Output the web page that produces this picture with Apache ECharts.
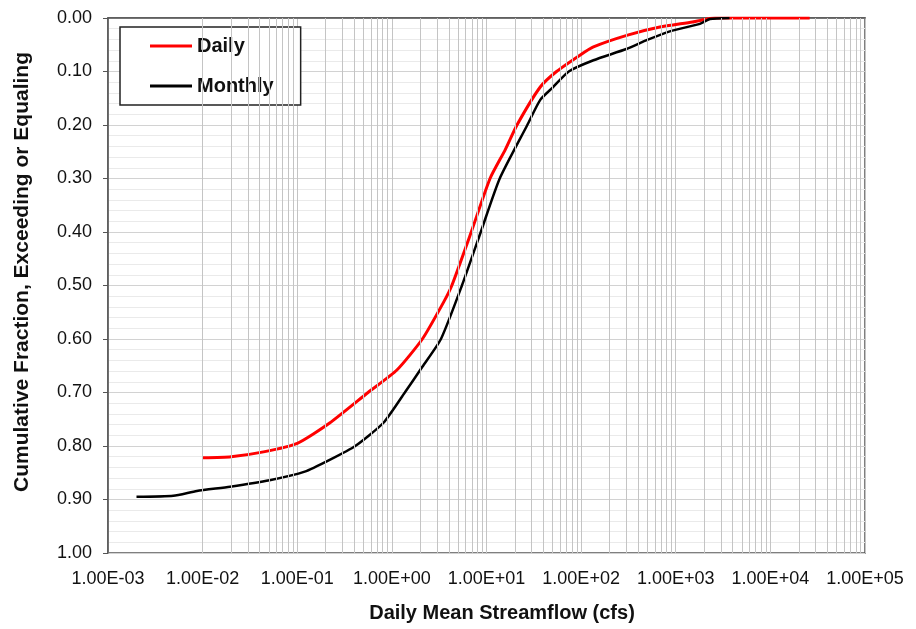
<!DOCTYPE html>
<html>
<head>
<meta charset="utf-8">
<title>Cumulative streamflow</title>
<script src="https://cdn.jsdelivr.net/npm/echarts@6/dist/echarts.min.js"></script>
<style>
  html, body { margin: 0; padding: 0; background: #fff; }
  #chart { width: 916px; height: 629px; }
</style>
</head>
<body>
<div id="chart"></div>
<script>
// flow values (cfs) and cumulative fraction
var dailyFlow = [0.01, 0.02, 0.044, 0.1, 0.22, 0.56, 1.13, 2.1, 3.5, 4.3, 6.9, 10.9, 15.8, 21, 37, 55, 98, 135, 310, 680, 1500, 2150, 2600, 26000];
var dailyFrac = [0.822, 0.820, 0.811, 0.795, 0.757, 0.700, 0.658, 0.600, 0.532, 0.500, 0.400, 0.300, 0.246, 0.200, 0.129, 0.100, 0.069, 0.054, 0.032, 0.017, 0.0075, 0.002, 0.0, 0.0];

var monthlyFlow = [0.002, 0.0049, 0.0087, 0.0195, 0.051, 0.12, 0.22, 0.41, 0.81, 1.37, 2.1, 3.3, 5.5, 8.7, 13.8, 27, 37, 50, 74, 135, 300, 500, 900, 1800, 2300, 3700];
var monthlyFrac = [0.895, 0.893, 0.884, 0.876, 0.864, 0.848, 0.826, 0.800, 0.757, 0.700, 0.652, 0.600, 0.500, 0.400, 0.300, 0.200, 0.153, 0.130, 0.100, 0.079, 0.058, 0.041, 0.024, 0.011, 0.002, 0.0];

var decades = [-3, -2, -1, 0, 1, 2, 3, 4];
var subSteps = [2, 3, 4, 5, 6, 7, 8, 9];

function pair(xs, ys) {
  var out = [];
  for (var i = 0; i < xs.length; i++) out.push([xs[i], ys[i]]);
  return out;
}

// minor vertical grid lines at 2..9 of each decade
var minorLines = [];
decades.forEach(function (d) {
  subSteps.forEach(function (k) {
    minorLines.push({ xAxis: k * Math.pow(10, d) });
  });
});

function sciLabel(v) {
  var e = Math.round(Math.log10(v));
  var m = v / Math.pow(10, e);
  var ex = Math.abs(e);
  return m.toFixed(2) + 'E' + (e < 0 ? '-' : '+') + (ex < 10 ? '0' + ex : ex);
}

var chart = echarts.init(document.getElementById('chart'));
chart.setOption({
  animation: false,
  textStyle: { fontFamily: 'Liberation Sans, Arial, sans-serif' },
  grid: {
    left: 108, right: 51, top: 18, bottom: 76,
    show: true, borderColor: '#555', borderWidth: 1.5
  },
  graphic: [
    {
      type: 'text', x: 22, y: 272, rotation: Math.PI / 2,
      style: {
        text: 'Cumulative Fraction, Exceeding or Equaling',
        font: 'bold 21px "Liberation Sans", Arial, sans-serif',
        fill: '#111', textAlign: 'center', textVerticalAlign: 'middle'
      }
    },
    {
      type: 'text', x: 502, y: 613,
      style: {
        text: 'Daily Mean Streamflow (cfs)',
        font: 'bold 20px "Liberation Sans", Arial, sans-serif',
        fill: '#111', textAlign: 'center', textVerticalAlign: 'middle'
      }
    }
  ],
  legend: {
    orient: 'vertical',
    left: 120, top: 27,
    padding: [9, 27, 9, 30],
    itemGap: 20,
    itemWidth: 42, itemHeight: 3,
    backgroundColor: '#fff',
    borderColor: '#222', borderWidth: 1.5,
    textStyle: { fontSize: 20, fontWeight: 'bold', color: '#111' },
    data: [
      { name: 'Daily', icon: 'rect' },
      { name: 'Monthly', icon: 'rect' }
    ]
  },
  xAxis: {
    type: 'log',
    logBase: 10,
    min: 0.001, max: 100000,
    splitNumber: 8,
    axisLine: { show: true, lineStyle: { color: '#555', width: 1.5 } },
    axisTick: { show: false },
    axisLabel: { fontSize: 18, color: '#111', margin: 17, formatter: sciLabel },
    splitLine: { show: true, lineStyle: { color: '#c4c4c4', width: 1 } }
  },
  yAxis: {
    type: 'value',
    inverse: true,
    min: 0, max: 1, interval: 0.1,
    axisLine: { show: true, lineStyle: { color: '#555', width: 1.5 } },
    axisTick: { show: true, length: 5, lineStyle: { color: '#555' } },
    axisLabel: { fontSize: 18, color: '#111', margin: 16, formatter: function (v) { return v.toFixed(2); } },
    splitLine: { show: true, lineStyle: { color: '#d2d2d2', width: 1 } },
    minorTick: { show: false, splitNumber: 5 },
    minorSplitLine: { show: true, lineStyle: { color: '#eaeaea', width: 1 } }
  },
  series: [
    {
      name: 'grid',
      type: 'line',
      data: [],
      z: 1,
      silent: true,
      markLine: {
        silent: true,
        symbol: 'none',
        label: { show: false },
        lineStyle: { color: '#c4c4c4', width: 1, type: 'solid' },
        data: minorLines
      }
    },
    {
      name: 'Daily',
      type: 'line',
      z: 3,
      showSymbol: false,
      smooth: 0.2,
      color: '#ff0000',
      lineStyle: { color: '#ff0000', width: 3 },
      data: pair(dailyFlow, dailyFrac)
    },
    {
      name: 'Monthly',
      type: 'line',
      z: 4,
      showSymbol: false,
      smooth: 0.2,
      color: '#000',
      lineStyle: { color: '#000', width: 2.5 },
      data: pair(monthlyFlow, monthlyFrac)
    }
  ]
});
</script>
</body>
</html>
